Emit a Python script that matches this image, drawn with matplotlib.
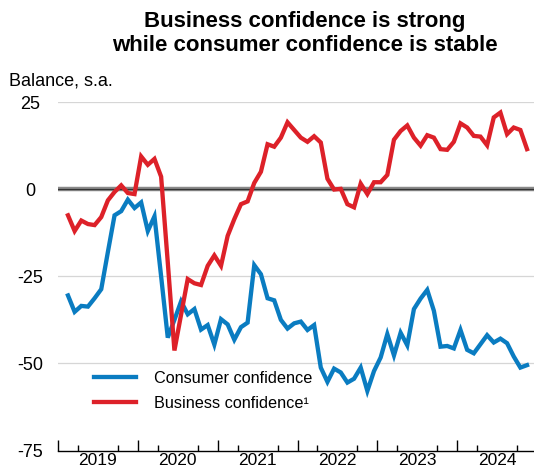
import matplotlib.pyplot as plt
import numpy as np
import pandas as pd

plt.rcParams['font.family'] = ['Liberation Sans', 'DejaVu Sans']

# monthly, Feb 2019 - Nov 2024
months = pd.date_range('2019-02-01', '2024-11-01', freq='MS')

consumer = [-30.5, -35.2, -33.5, -33.7, -31.3, -28.7, -18.0, -7.5, -6.3, -3.0,
            -5.4, -3.8, -12.0, -7.8, -25.0, -42.6, -37.5, -32.2, -35.9, -34.4,
            -40.3, -39.0, -44.6, -37.3, -38.8, -43.2, -39.6, -38.3, -21.8, -24.4,
            -31.3, -31.9, -37.5, -40.0, -38.5, -38.0, -40.4, -39.0, -51.2, -55.3,
            -51.5, -52.6, -55.5, -54.4, -51.2, -57.9, -52.2, -48.3, -41.6, -47.7,
            -41.2, -44.8, -34.4, -31.4, -28.9, -34.9, -45.2, -45.0, -45.7, -40.4,
            -46.1, -47.1, -44.5, -41.9, -44.0, -42.9, -44.2, -48.0, -51.2, -50.5]

business = [-7.5, -12.0, -9.0, -10.0, -10.3, -8.0, -3.2, -0.8, 1.1, -1.1,
            -1.4, 9.4, 7.0, 8.7, 3.6, -21.0, -46.3, -36.0, -25.8, -27.0,
            -27.5, -22.0, -19.0, -22.0, -13.4, -8.6, -4.3, -3.5, 1.8, 5.0,
            12.9, 12.2, 14.8, 19.2, 17.0, 14.8, 13.6, 15.2, 13.4, 3.0,
            -0.1, 0.1, -4.3, -5.2, 1.6, -1.4, 2.0, 2.0, 4.1, 14.2,
            16.7, 18.3, 14.8, 12.5, 15.5, 14.8, 11.5, 11.3, 13.6, 18.9,
            17.7, 15.3, 15.1, 12.6, 20.6, 22.0, 15.8, 17.7, 17.0, 11.5]

years = [2019, 2020, 2021, 2022, 2023, 2024]
yticks = [25, 0, -25, -50, -75]

blue = '#0a7cc1'
red = '#dd2129'

# fractional year, point in the middle of the month
x = months.year + (months.month - 0.5) / 12

fig = plt.figure(figsize=(5.34, 4.72), dpi=100)
ax = fig.add_axes([58 / 534, 21.5 / 472, 479 / 534, 348.4 / 472])

for y in [25, -25, -50]:
    ax.axhline(y, color='#d6d6d6', lw=0.9, zorder=1)
ax.axhline(0, color='#8a8a8a', lw=3.2, zorder=2)
ax.axhline(0, color='#333333', lw=0.9, zorder=2)

ax.plot(x, consumer, color=blue, lw=3.1, zorder=3, solid_joinstyle='miter',
        label='Consumer confidence')
ax.plot(x, business, color=red, lw=3.1, zorder=3, solid_joinstyle='miter',
        label='Business confidence\u00b9')

ax.set_xlim(2019, 2025)
ax.set_ylim(-75, 25)

for s in ['top', 'right', 'left']:
    ax.spines[s].set_visible(False)
ax.spines['bottom'].set_linewidth(1.0)

ax.set_yticks(yticks)
ax.set_yticklabels([str(v) for v in yticks])
ax.tick_params(axis='y', length=0, pad=20, labelsize=13)
for lbl in ax.get_yticklabels():
    lbl.set_horizontalalignment('center')

# year labels in the middle of each year
ax.set_xticks([y + 0.5 for y in years])
ax.set_xticklabels([str(y) for y in years])
quarters = [y + q / 4 for y in years for q in (1, 2, 3)]
ax.set_xticks(quarters, minor=True)
ax.tick_params(axis='x', which='major', length=0, pad=2, labelsize=12.5)
ax.tick_params(axis='x', which='minor', length=4, width=1, direction='in')

# year boundary ticks
sec = ax.secondary_xaxis('bottom')
sec.set_xticks(years + [2025])
sec.set_xticklabels([])
sec.tick_params(length=8, width=1, direction='in')
sec.spines['bottom'].set_visible(False)

leg = ax.legend(loc='upper left', bbox_to_anchor=(94 / 534, (472 - 371) / 472),
                bbox_transform=fig.transFigure, frameon=False, fontsize=11.7,
                handlelength=2.6, handletextpad=1.1, labelspacing=0.6,
                borderpad=0, borderaxespad=0)

fig.text(305 / 534, 1 - 33.5 / 472, 'Business confidence is strong\nwhile consumer confidence is stable',
         ha='center', va='center', fontsize=16, fontweight='bold', linespacing=1.2)
fig.text(9 / 534, 1 - 81 / 472, 'Balance, s.a.', ha='left', va='center', fontsize=13)

fig.savefig('out.png', dpi=100)
